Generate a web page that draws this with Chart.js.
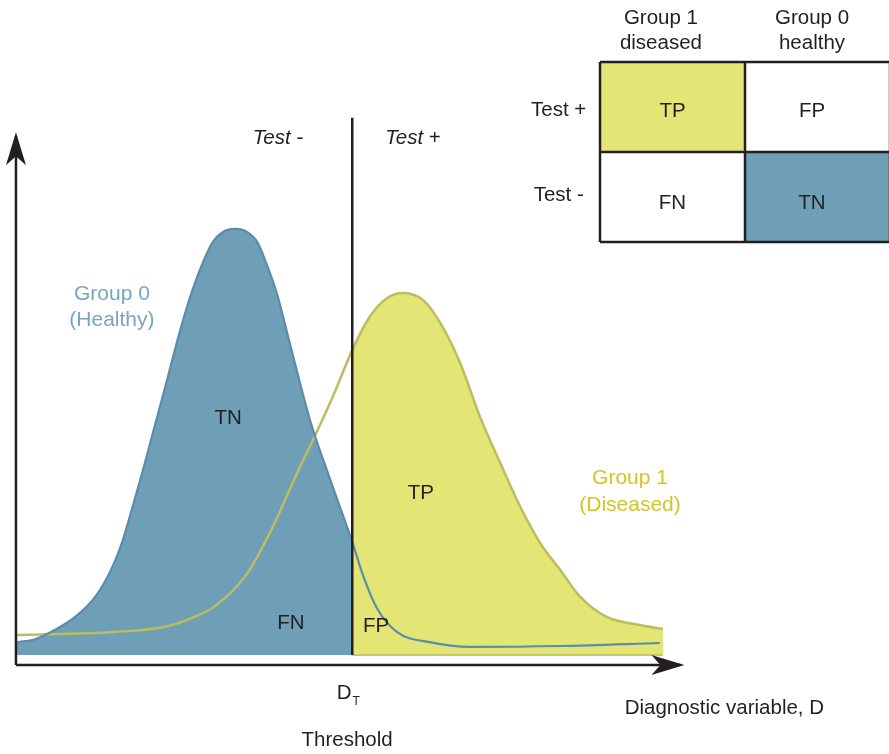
<!DOCTYPE html>
<html>
<head>
<meta charset="utf-8">
<script src="https://cdn.jsdelivr.net/npm/chart.js@4.4.0/dist/chart.umd.min.js"></script>
<style>
  html, body { margin: 0; padding: 0; background: #fff; }
  #wrap { width: 889px; height: 754px; }
</style>
</head>
<body>
<div id="wrap"><canvas id="chart" width="889" height="754"></canvas></div>
<script>
// Group 0 (healthy) density against the diagnostic variable D
const healthyD = [0, 0.28, 0.59, 0.90, 1.21, 1.47, 1.63, 1.78, 1.94, 2.09, 2.31, 2.52, 2.72, 2.88, 3.03, 3.19, 3.38, 3.56, 3.72, 3.87, 4.03, 4.23, 4.54, 4.85, 5.19, 5.36, 5.57, 5.88, 6.39, 7.01, 8.41, 9.95];
const healthyDensity = [0.030, 0.037, 0.059, 0.089, 0.136, 0.204, 0.265, 0.342, 0.427, 0.512, 0.636, 0.757, 0.856, 0.920, 0.967, 0.991, 0.998, 0.991, 0.967, 0.913, 0.843, 0.726, 0.548, 0.410, 0.265, 0.185, 0.110, 0.054, 0.030, 0.019, 0.021, 0.028];

// Group 1 (diseased) density
const diseasedD = [0, 1.52, 2.29, 2.71, 3.07, 3.56, 3.96, 4.33, 4.64, 4.92, 5.19, 5.46, 5.73, 5.98, 6.29, 6.59, 6.86, 7.17, 7.48, 7.79, 8.10, 8.41, 8.72, 9.13, 9.64, 10.0];
const diseasedDensity = [0.047, 0.054, 0.066, 0.087, 0.115, 0.190, 0.300, 0.424, 0.522, 0.616, 0.714, 0.792, 0.836, 0.848, 0.831, 0.768, 0.684, 0.557, 0.450, 0.347, 0.262, 0.199, 0.136, 0.089, 0.070, 0.061];

// threshold D_T and the ends of the two drawn axes
const thresholdD = 5.19;
const thresholdTop = 1.258;
const axisD = [-0.016, 10.27];
const axisDensity = [-0.0234, 1.215];

// 2x2 table (columns = true group, rows = test result)
const tableCols = [['Group 1', 'diseased'], ['Group 0', 'healthy']];
const tableRows = ['Test +', 'Test -'];
const tableCells = [['TP', 'FP'], ['FN', 'TN']];

const BLUE = '#6e9fb7';
const BLUE_LINE = '#5b8cab';
const YELLOW = '#e3e574';
const YELLOW_LINE = '#bcbd5e';
const INK = '#231f20';
const FONT = "'Liberation Sans', Arial, Helvetica, sans-serif";

const pts = (xs, ys) => xs.map((x, i) => ({ x: x, y: ys[i] }));
const healthy = pts(healthyD, healthyDensity);
const diseased = pts(diseasedD, diseasedDensity);

function line(data, color, width, extra) {
  return Object.assign({
    type: 'line', data: data, borderColor: color, borderWidth: width,
    pointRadius: 0, fill: false, cubicInterpolationMode: 'monotone'
  }, extra || {});
}

const datasets = [];
// threshold and axes on top
datasets.push(line([{ x: thresholdD, y: 0 }, { x: thresholdD, y: thresholdTop }], INK, 2.5));
datasets.push(line([{ x: axisD[0], y: axisDensity[0] }, { x: axisD[1], y: axisDensity[0] }], INK, 2.5, { arrow: true }));
datasets.push(line([{ x: axisD[0], y: axisDensity[0] }, { x: axisD[0], y: axisDensity[1] }], INK, 2.5, { arrow: true }));
// curves
datasets.push(line(healthy, BLUE_LINE, 2.2));
datasets.push(line(diseased, YELLOW_LINE, 2.5));
datasets.push(line([{ x: thresholdD, y: 0 }, { x: diseasedD[diseasedD.length - 1], y: 0 }], '#c9ca62', 2));
// filled areas split at the threshold
datasets.push(line(healthy.filter(p => p.x <= thresholdD), BLUE, 0, { backgroundColor: BLUE, fill: { value: 0 } }));
datasets.push(line(diseased.filter(p => p.x >= thresholdD), YELLOW, 0, { backgroundColor: YELLOW, fill: { value: 0 } }));

// table borders and cells on the x2/y2 scales
const tbl = { xAxisID: 'x2', yAxisID: 'y2', cubicInterpolationMode: 'default', tension: 0 };
for (let r = 0; r <= tableRows.length; r++) {
  datasets.push(line([{ x: 0, y: r }, { x: tableCols.length, y: r }], INK, 2.5, tbl));
}
for (let c = 0; c <= tableCols.length; c++) {
  datasets.push(line([{ x: c, y: 0 }, { x: c, y: tableRows.length }], INK, 2.5, tbl));
}
const cellColor = { TP: YELLOW, TN: BLUE };
tableCells.forEach((row, r) => row.forEach((cell, c) => {
  if (!cellColor[cell]) return;
  datasets.push(line([{ x: c, y: r }, { x: c + 1, y: r }], cellColor[cell], 0,
    Object.assign({ backgroundColor: cellColor[cell], fill: { value: r + 1 } }, tbl)));
}));

// text placed in axis units; parts allow italic pieces
const notes = [
  { parts: [['Test', true], [' -', false]], x: 4.04, y: 1.211 },
  { parts: [['Test', true], [' +', false]], x: 6.13, y: 1.211 },
  { text: 'Group 0', x: 1.47, y: 0.845, color: '#77a6be', size: 21 },
  { text: '(Healthy)', x: 1.47, y: 0.785, color: '#77a6be', size: 21 },
  { text: 'Group 1', x: 9.49, y: 0.415, color: '#d3c526', size: 21 },
  { text: '(Diseased)', x: 9.49, y: 0.351, color: '#d3c526', size: 21 },
  { text: 'TN', x: 3.27, y: 0.555 },
  { text: 'TP', x: 6.25, y: 0.379 },
  { text: 'FN', x: 4.24, y: 0.075 },
  { text: 'FP', x: 5.56, y: 0.066 },
  { text: 'D', sub: 'T', x: 5.13, y: -0.089 },
  { text: 'Threshold', x: 5.11, y: -0.199 },
  { text: 'Diagnostic variable, D', x: 10.95, y: -0.124 }
];
const colX = [0.42, 1.462];
const cellX = [0.5, 1.462];
tableCols.forEach((lines, c) => lines.forEach((t, k) => {
  notes.push({ text: t, x: colX[c], y: [-0.489, -0.211][k], table: true });
}));
tableRows.forEach((t, r) => notes.push({ text: t, x: -0.285, y: [0.533, 1.478][r], table: true }));
tableCells.forEach((row, r) => row.forEach((t, c) => {
  notes.push({ text: t, x: cellX[c], y: [0.544, 1.567][r], table: true });
}));

const arrowPlugin = {
  id: 'arrows',
  afterDatasetsDraw(chart) {
    const ctx = chart.ctx;
    chart.data.datasets.forEach((ds, i) => {
      if (!ds.arrow) return;
      const el = chart.getDatasetMeta(i).data;
      const a = el[el.length - 2], b = el[el.length - 1];
      const dx = b.x - a.x, dy = b.y - a.y, len = Math.hypot(dx, dy);
      const ux = dx / len, uy = dy / len, nx = -uy, ny = ux;
      const tx = b.x + ux * 4, ty = b.y + uy * 4;
      const L = 33, W = 10, N = 9;
      ctx.save();
      ctx.fillStyle = INK;
      ctx.beginPath();
      ctx.moveTo(tx, ty);
      ctx.lineTo(tx - L * ux + W * nx, ty - L * uy + W * ny);
      ctx.lineTo(tx - (L - N) * ux, ty - (L - N) * uy);
      ctx.lineTo(tx - L * ux - W * nx, ty - L * uy - W * ny);
      ctx.closePath();
      ctx.fill();
      ctx.restore();
    });
  }
};

const textPlugin = {
  id: 'notes',
  afterDraw(chart) {
    const ctx = chart.ctx;
    ctx.save();
    ctx.textBaseline = 'middle';
    notes.forEach(n => {
      const xs = chart.scales[n.table ? 'x2' : 'x'];
      const ys = chart.scales[n.table ? 'y2' : 'y'];
      const px = xs.getPixelForValue(n.x), py = ys.getPixelForValue(n.y);
      const size = n.size || 20.5;
      ctx.fillStyle = n.color || INK;
      const parts = n.parts || [[n.text, false]];
      const fonts = parts.map(p => (p[1] ? 'italic ' : '') + size + 'px ' + FONT);
      let w = 0;
      parts.forEach((p, k) => { ctx.font = fonts[k]; w += ctx.measureText(p[0]).width; });
      let subW = 0;
      if (n.sub) { ctx.font = '12px ' + FONT; subW = ctx.measureText(n.sub).width + 1; }
      let x = px - (w + subW) / 2;
      ctx.textAlign = 'left';
      parts.forEach((p, k) => {
        ctx.font = fonts[k];
        ctx.fillText(p[0], x, py);
        x += ctx.measureText(p[0]).width;
      });
      if (n.sub) {
        ctx.font = '12px ' + FONT;
        ctx.fillText(n.sub, x + 1, py + 9);
      }
    });
    ctx.restore();
  }
};

new Chart(document.getElementById('chart'), {
  type: 'scatter',
  data: { datasets: datasets },
  options: {
    responsive: false,
    animation: false,
    events: [],
    layout: { padding: 0 },
    plugins: { legend: { display: false }, tooltip: { enabled: false } },
    scales: {
      x: { type: 'linear', display: false, min: -0.263, max: 13.499 },
      y: { type: 'linear', display: false, min: -0.2319, max: 1.5339 },
      x2: { type: 'linear', display: false, min: -4.138, max: 1.993 },
      y2: { type: 'linear', display: false, reverse: true, min: -0.689, max: 7.689 }
    }
  },
  plugins: [arrowPlugin, textPlugin]
});
</script>
</body>
</html>
